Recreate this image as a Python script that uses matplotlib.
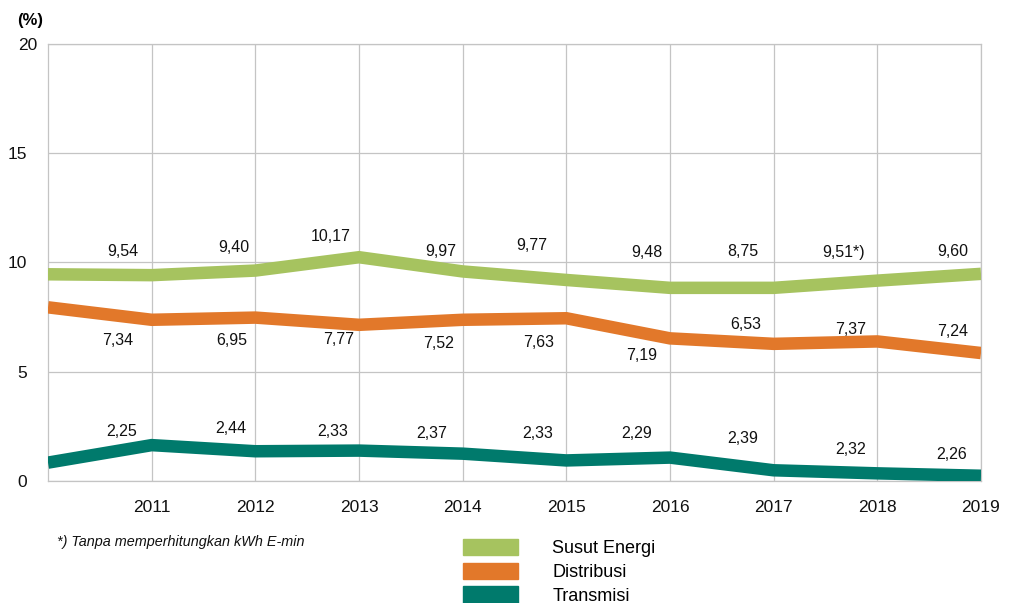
import matplotlib
matplotlib.use("Agg")
import matplotlib.pyplot as plt
from matplotlib.patches import Patch
from matplotlib.transforms import ScaledTranslation

plt.rcParams['font.family'] = ['Liberation Sans', 'DejaVu Sans']

# tick labels (the line starts one step before 2011, at the left edge)
years = ['2011', '2012', '2013', '2014', '2015', '2016', '2017', '2018', '2019']

# line values, 10 points each
susut = [9.45, 9.41, 9.62, 10.23, 9.58, 9.19, 8.83, 8.83, 9.16, 9.47]
distribusi = [7.94, 7.37, 7.47, 7.14, 7.37, 7.44, 6.52, 6.27, 6.38, 5.85]
transmisi = [0.84, 1.64, 1.36, 1.39, 1.25, 0.94, 1.07, 0.49, 0.35, 0.24]

# printed value labels
susut_labels = ['9,54', '9,40', '10,17', '9,97', '9,77', '9,48', '8,75', '9,51*)', '9,60']
dist_labels = ['7,34', '6,95', '7,77', '7,52', '7,63', '7,19', '6,53', '7,37', '7,24']
trans_labels = ['2,25', '2,44', '2,33', '2,37', '2,33', '2,29', '2,39', '2,32', '2,26']

# where the labels sit (data units)
susut_lx = [0.72, 1.79, 2.73, 3.79, 4.67, 5.78, 6.70, 7.67, 8.73]
susut_ly = [10.50, 10.68, 11.19, 10.50, 10.78, 10.46, 10.50, 10.46, 10.50]
dist_lx = [0.67, 1.77, 2.80, 3.77, 4.73, 5.73, 6.73, 7.74, 8.73]
dist_ly = [6.44, 6.44, 6.48, 6.30, 6.35, 5.75, 7.17, 6.94, 6.85]
trans_lx = [0.71, 1.76, 2.75, 3.70, 4.72, 5.68, 6.70, 7.74, 8.72]
trans_ly = [2.24, 2.42, 2.28, 2.19, 2.15, 2.19, 1.96, 1.42, 1.19]

GREEN = '#a6c35f'
ORANGE = '#e2782a'
TEAL = '#007a6c'
GRID = '#c4c4c4'

fig = plt.figure(figsize=(10.12, 6.03), dpi=100)
ax = fig.add_axes([48 / 1012, 1 - 481 / 603, 933 / 1012, 437.5 / 603])

xs = list(range(len(susut)))
for vals, col in [(susut, GREEN), (distribusi, ORANGE), (transmisi, TEAL)]:
    ax.plot(xs, vals, color=col, lw=9, solid_capstyle='butt', solid_joinstyle='miter', zorder=3)

for labs, lx, ly in [(susut_labels, susut_lx, susut_ly),
                     (dist_labels, dist_lx, dist_ly),
                     (trans_labels, trans_lx, trans_ly)]:
    for t, x, y in zip(labs, lx, ly):
        ax.text(x, y, t, ha='center', va='center', fontsize=11.5, color='#111111', zorder=4)

ax.set_xlim(0, len(susut) - 1)
ax.set_ylim(0, 20)
ax.set_xticks(range(1, len(years) + 1))
ax.set_xticklabels(years)
ax.set_yticks([0, 5, 10, 15, 20])
ax.grid(True, color=GRID, lw=0.9)
ax.set_axisbelow(True)
ax.tick_params(axis='both', length=0, labelsize=12.5, colors='#111111')
ax.tick_params(axis='x', pad=14)
ax.tick_params(axis='y', pad=15)
for s in ax.spines.values():
    s.set_color(GRID)
    s.set_linewidth(0.9)

# the top label sits a bit further right in the original
for lab in ax.get_yticklabels():
    if lab.get_text() == '20':
        lab.set_transform(lab.get_transform() + ScaledTranslation(10 / 100, 0, fig.dpi_scale_trans))

fig.text(17 / 1012, 1 - 20 / 603, '(%)', ha='left', va='center', fontsize=12, fontweight='bold')
fig.text(57 / 1012, 1 - 542 / 603, '*) Tanpa memperhitungkan kWh E-min', ha='left', va='center',
         fontsize=10.4, style='italic', color='#111111')

handles = [Patch(color=GREEN), Patch(color=ORANGE), Patch(color=TEAL)]
fig.legend(handles, ['Susut Energi', 'Distribusi', 'Transmisi'], loc='upper left',
           bbox_to_anchor=(463 / 1012, 1 - 539 / 603), frameon=False, borderpad=0,
           borderaxespad=0, handlelength=3.05, handleheight=1.0, handletextpad=1.9,
           labelspacing=0.3, fontsize=13)

fig.savefig('out.png', dpi=100)
